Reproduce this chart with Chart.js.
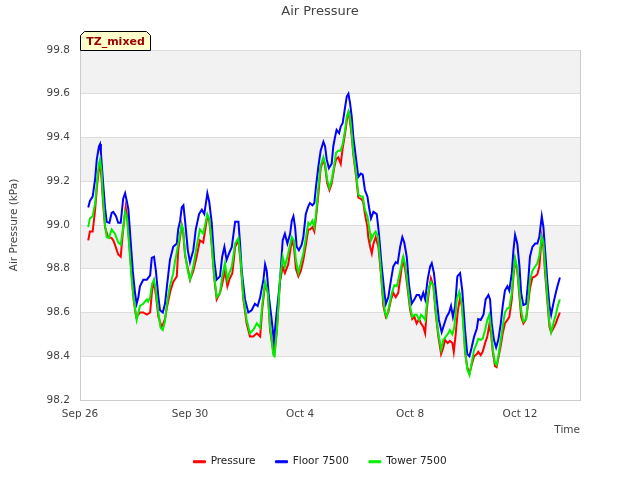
<!DOCTYPE html>
<html><head><meta charset="utf-8">
<script src="https://cdn.jsdelivr.net/npm/chart.js@4/dist/chart.umd.min.js"></script>
<style>html,body{margin:0;padding:0;background:#fff}</style>
</head><body>
<canvas id="c" width="640" height="480" style="width:640px;height:480px"></canvas>
<script>
const chartTitle = 'Air Pressure';
const seriesNames = ['Pressure', 'Floor 7500', 'Tower 7500'];
const seriesColors = ['#ff0000', '#0000ff', '#00ee00'];
const tickDays = [0, 4, 8, 12, 16];
const tickLabels = ['Sep 26', 'Sep 30', 'Oct 4', 'Oct 8', 'Oct 12'];
const yTicks = [98.2, 98.4, 98.6, 98.8, 99.0, 99.2, 99.4, 99.6, 99.8];
const shadedBands = [[98.4, 98.6], [98.8, 99.0], [99.2, 99.4], [99.6, 99.8]];

// [days since Sep 26 00:00, kPa]
const floorSeries = [[0.30,99.08],[0.36,99.11],[0.46,99.13],[0.55,99.21],[0.61,99.30],[0.69,99.36],[0.73,99.37],[0.76,99.33],[0.83,99.21],[0.91,99.08],[0.97,99.015],[1.07,99.01],[1.15,99.055],[1.21,99.06],[1.31,99.04],[1.39,99.01],[1.48,99.01],[1.57,99.12],[1.64,99.145],[1.70,99.11],[1.76,99.07],[1.84,98.93],[1.92,98.79],[2.00,98.69],[2.06,98.64],[2.12,98.67],[2.18,98.72],[2.30,98.75],[2.43,98.75],[2.55,98.77],[2.61,98.85],[2.69,98.855],[2.76,98.79],[2.85,98.67],[2.91,98.61],[3.01,98.60],[3.09,98.64],[3.17,98.73],[3.27,98.84],[3.39,98.90],[3.52,98.915],[3.57,98.98],[3.64,99.02],[3.70,99.08],[3.76,99.09],[3.82,99.02],[3.92,98.885],[4.00,98.83],[4.12,98.885],[4.21,98.98],[4.33,99.05],[4.43,99.07],[4.52,99.05],[4.63,99.145],[4.70,99.105],[4.79,99.01],[4.88,98.84],[4.97,98.75],[5.09,98.765],[5.17,98.855],[5.25,98.90],[5.33,98.84],[5.42,98.87],[5.52,98.90],[5.64,99.015],[5.76,99.015],[5.82,98.915],[5.88,98.79],[6.00,98.66],[6.12,98.60],[6.24,98.61],[6.36,98.64],[6.46,98.63],[6.55,98.67],[6.67,98.75],[6.73,98.82],[6.79,98.79],[6.87,98.67],[6.97,98.566],[7.05,98.47],[7.15,98.60],[7.27,98.74],[7.37,98.93],[7.45,98.96],[7.54,98.915],[7.64,98.96],[7.70,99.02],[7.76,99.04],[7.82,98.99],[7.88,98.90],[7.96,98.885],[8.06,98.91],[8.12,98.945],[8.21,99.05],[8.30,99.085],[8.36,99.10],[8.45,99.09],[8.52,99.10],[8.58,99.175],[8.67,99.27],[8.75,99.34],[8.85,99.38],[8.91,99.36],[8.97,99.30],[9.05,99.26],[9.15,99.28],[9.21,99.36],[9.27,99.40],[9.33,99.435],[9.42,99.42],[9.48,99.45],[9.55,99.465],[9.64,99.54],[9.70,99.587],[9.76,99.60],[9.82,99.556],[9.88,99.495],[9.94,99.40],[10.04,99.30],[10.12,99.22],[10.21,99.235],[10.28,99.23],[10.36,99.16],[10.45,99.13],[10.51,99.08],[10.58,99.03],[10.67,99.06],[10.79,99.05],[10.87,98.96],[10.97,98.81],[11.07,98.69],[11.12,98.64],[11.21,98.67],[11.31,98.75],[11.39,98.81],[11.48,98.83],[11.55,98.825],[11.64,98.90],[11.72,98.945],[11.79,98.92],[11.88,98.855],[11.96,98.73],[12.06,98.64],[12.16,98.66],[12.24,98.68],[12.33,98.68],[12.40,98.66],[12.48,98.69],[12.55,98.66],[12.64,98.75],[12.73,98.81],[12.79,98.825],[12.87,98.78],[12.97,98.66],[13.05,98.566],[13.15,98.51],[13.25,98.55],[13.33,98.58],[13.42,98.60],[13.49,98.63],[13.56,98.58],[13.64,98.63],[13.72,98.765],[13.82,98.78],[13.90,98.70],[14.00,98.52],[14.08,98.41],[14.16,98.40],[14.24,98.44],[14.33,98.49],[14.43,98.527],[14.48,98.57],[14.57,98.566],[14.67,98.59],[14.75,98.66],[14.85,98.68],[14.91,98.66],[14.97,98.55],[15.05,98.475],[15.13,98.44],[15.21,98.475],[15.30,98.55],[15.37,98.63],[15.45,98.70],[15.54,98.72],[15.61,98.70],[15.70,98.78],[15.76,98.885],[15.82,98.955],[15.90,98.915],[15.98,98.81],[16.04,98.69],[16.12,98.634],[16.22,98.64],[16.30,98.75],[16.36,98.855],[16.45,98.90],[16.55,98.915],[16.63,98.915],[16.70,98.945],[16.79,99.04],[16.85,98.99],[16.91,98.885],[17.00,98.73],[17.07,98.63],[17.13,98.59],[17.21,98.64],[17.30,98.69],[17.37,98.725],[17.45,98.76]];

const towerSeries = [[0.30,98.99],[0.36,99.03],[0.46,99.04],[0.55,99.10],[0.62,99.20],[0.69,99.28],[0.73,99.30],[0.78,99.25],[0.84,99.12],[0.91,99.00],[0.97,98.945],[1.05,98.94],[1.15,98.98],[1.21,98.97],[1.27,98.96],[1.39,98.92],[1.48,98.91],[1.57,98.99],[1.64,99.06],[1.71,99.03],[1.78,98.92],[1.85,98.80],[1.93,98.68],[2.06,98.566],[2.18,98.63],[2.30,98.64],[2.43,98.66],[2.48,98.65],[2.55,98.67],[2.62,98.73],[2.69,98.75],[2.76,98.70],[2.85,98.60],[2.93,98.53],[3.01,98.52],[3.09,98.56],[3.17,98.65],[3.27,98.72],[3.39,98.78],[3.45,98.83],[3.57,98.91],[3.70,99.00],[3.75,98.98],[3.82,98.87],[3.92,98.79],[4.00,98.75],[4.12,98.81],[4.24,98.90],[4.36,98.98],[4.48,98.96],[4.63,99.05],[4.70,99.03],[4.79,98.915],[4.88,98.765],[4.97,98.67],[5.09,98.69],[5.17,98.765],[5.27,98.825],[5.36,98.75],[5.43,98.78],[5.52,98.81],[5.64,98.915],[5.76,98.94],[5.84,98.84],[5.94,98.67],[6.06,98.566],[6.18,98.505],[6.30,98.52],[6.43,98.55],[6.55,98.53],[6.63,98.64],[6.73,98.74],[6.83,98.69],[6.91,98.535],[7.03,98.405],[7.07,98.40],[7.16,98.52],[7.27,98.75],[7.37,98.855],[7.45,98.81],[7.57,98.87],[7.70,98.945],[7.78,98.93],[7.85,98.84],[7.94,98.78],[8.03,98.825],[8.12,98.87],[8.22,98.945],[8.30,99.01],[8.36,99.00],[8.45,99.02],[8.52,98.99],[8.58,99.05],[8.67,99.175],[8.75,99.27],[8.85,99.31],[8.91,99.28],[8.99,99.205],[9.07,99.17],[9.15,99.205],[9.24,99.27],[9.31,99.33],[9.39,99.34],[9.48,99.34],[9.55,99.37],[9.64,99.435],[9.70,99.495],[9.76,99.52],[9.82,99.49],[9.88,99.42],[9.94,99.33],[10.04,99.235],[10.12,99.14],[10.21,99.13],[10.28,99.13],[10.36,99.07],[10.45,99.04],[10.55,98.96],[10.58,98.93],[10.67,98.955],[10.75,98.97],[10.83,98.95],[10.91,98.84],[11.00,98.69],[11.09,98.60],[11.15,98.58],[11.24,98.63],[11.34,98.69],[11.43,98.725],[11.52,98.72],[11.60,98.765],[11.70,98.825],[11.76,98.855],[11.82,98.82],[11.92,98.72],[12.00,98.63],[12.08,98.58],[12.16,98.59],[12.24,98.59],[12.33,98.566],[12.40,98.59],[12.48,98.58],[12.55,98.566],[12.63,98.66],[12.70,98.72],[12.76,98.74],[12.85,98.72],[12.93,98.61],[13.03,98.505],[13.13,98.43],[13.21,98.475],[13.30,98.49],[13.39,98.505],[13.45,98.52],[13.54,98.50],[13.61,98.535],[13.70,98.66],[13.79,98.695],[13.88,98.64],[13.93,98.55],[14.00,98.43],[14.08,98.34],[14.16,98.314],[14.24,98.37],[14.33,98.43],[14.43,98.46],[14.48,98.48],[14.57,98.475],[14.64,98.48],[14.73,98.52],[14.81,98.566],[14.88,98.59],[14.95,98.52],[15.01,98.43],[15.09,98.37],[15.15,98.36],[15.21,98.40],[15.30,98.475],[15.37,98.535],[15.45,98.60],[15.54,98.62],[15.61,98.62],[15.70,98.69],[15.76,98.78],[15.82,98.848],[15.90,98.80],[15.98,98.69],[16.04,98.61],[16.12,98.558],[16.22,98.57],[16.30,98.66],[16.36,98.75],[16.45,98.79],[16.55,98.81],[16.63,98.825],[16.70,98.86],[16.79,98.945],[16.85,98.92],[16.91,98.81],[17.00,98.66],[17.07,98.55],[17.13,98.51],[17.21,98.55],[17.30,98.59],[17.37,98.63],[17.45,98.66]];

const pressureSeries = [[0.30,98.93],[0.36,98.97],[0.46,98.97],[0.55,99.07],[0.62,99.18],[0.69,99.26],[0.73,99.28],[0.78,99.22],[0.84,99.10],[0.91,98.99],[1.02,98.945],[1.15,98.94],[1.21,98.93],[1.27,98.91],[1.39,98.865],[1.48,98.855],[1.56,98.97],[1.66,99.08],[1.73,99.02],[1.80,98.90],[1.87,98.78],[1.95,98.66],[2.04,98.58],[2.12,98.59],[2.18,98.60],[2.30,98.60],[2.43,98.59],[2.55,98.60],[2.62,98.70],[2.69,98.74],[2.76,98.68],[2.85,98.58],[2.97,98.535],[3.03,98.55],[3.09,98.57],[3.17,98.63],[3.29,98.70],[3.39,98.74],[3.52,98.765],[3.57,98.885],[3.70,99.00],[3.75,98.97],[3.82,98.86],[3.94,98.79],[4.00,98.75],[4.12,98.79],[4.24,98.855],[4.36,98.93],[4.48,98.92],[4.63,99.04],[4.70,99.02],[4.79,98.91],[4.88,98.76],[4.97,98.66],[5.09,98.69],[5.17,98.73],[5.27,98.79],[5.36,98.72],[5.43,98.75],[5.54,98.78],[5.64,98.90],[5.76,98.93],[5.84,98.83],[5.94,98.66],[6.06,98.55],[6.18,98.49],[6.30,98.49],[6.43,98.505],[6.55,98.49],[6.63,98.62],[6.73,98.73],[6.83,98.69],[6.91,98.52],[7.03,98.42],[7.07,98.41],[7.16,98.52],[7.27,98.74],[7.37,98.81],[7.45,98.78],[7.57,98.82],[7.70,98.93],[7.78,98.90],[7.85,98.80],[7.94,98.765],[8.03,98.79],[8.12,98.84],[8.22,98.915],[8.30,98.98],[8.36,98.98],[8.45,98.99],[8.52,98.97],[8.58,99.03],[8.67,99.145],[8.75,99.26],[8.85,99.30],[8.91,99.27],[8.99,99.19],[9.07,99.16],[9.15,99.19],[9.24,99.26],[9.31,99.30],[9.39,99.31],[9.48,99.28],[9.55,99.35],[9.64,99.42],[9.72,99.495],[9.78,99.51],[9.88,99.405],[9.94,99.32],[10.04,99.22],[10.12,99.125],[10.21,99.12],[10.29,99.11],[10.36,99.05],[10.45,98.99],[10.48,98.945],[10.55,98.90],[10.61,98.87],[10.67,98.915],[10.75,98.945],[10.85,98.90],[10.95,98.765],[11.03,98.63],[11.12,98.58],[11.21,98.60],[11.31,98.66],[11.39,98.69],[11.48,98.67],[11.57,98.69],[11.67,98.78],[11.73,98.84],[11.82,98.80],[11.92,98.70],[12.00,98.615],[12.08,98.57],[12.16,98.58],[12.24,98.55],[12.33,98.57],[12.40,98.55],[12.48,98.535],[12.55,98.505],[12.61,98.615],[12.69,98.70],[12.76,98.756],[12.85,98.72],[12.93,98.60],[13.03,98.49],[13.13,98.41],[13.21,98.44],[13.27,98.475],[13.37,98.46],[13.45,98.47],[13.54,98.46],[13.59,98.42],[13.66,98.50],[13.73,98.60],[13.82,98.67],[13.90,98.62],[13.97,98.50],[14.00,98.42],[14.08,98.35],[14.16,98.32],[14.24,98.36],[14.33,98.40],[14.43,98.41],[14.48,98.42],[14.57,98.405],[14.64,98.42],[14.73,98.46],[14.81,98.49],[14.88,98.543],[14.95,98.50],[15.01,98.42],[15.09,98.355],[15.15,98.35],[15.21,98.39],[15.30,98.45],[15.37,98.505],[15.45,98.55],[15.54,98.566],[15.61,98.58],[15.70,98.66],[15.76,98.765],[15.82,98.84],[15.90,98.79],[15.98,98.67],[16.04,98.58],[16.12,98.55],[16.22,98.57],[16.30,98.645],[16.36,98.71],[16.45,98.76],[16.55,98.765],[16.63,98.775],[16.70,98.81],[16.79,98.945],[16.85,98.90],[16.91,98.78],[17.00,98.64],[17.07,98.535],[17.13,98.51],[17.21,98.527],[17.30,98.55],[17.37,98.575],[17.45,98.60]];

const toPoints = s => s.map(p => ({x: p[0], y: p[1]}));
const allSeries = [pressureSeries, floorSeries, towerSeries];
const drawOrder = [3, 2, 1];

Chart.defaults.font.family = "'DejaVu Sans', sans-serif";

const bandPlugin = {
  id: 'bands',
  beforeDraw(chart) {
    const {ctx, chartArea: a, scales: {y}} = chart;
    ctx.save();
    ctx.fillStyle = '#f2f2f2';
    shadedBands.forEach(b => {
      const t = y.getPixelForValue(b[1]), bt = y.getPixelForValue(b[0]);
      ctx.fillRect(a.left, t, a.right - a.left, bt - t);
    });
    ctx.restore();
  },
  afterDraw(chart) {
    const {ctx, chartArea: a} = chart;
    ctx.save();
    ctx.strokeStyle = '#cccccc';
    ctx.lineWidth = 1;
    ctx.beginPath();
    ctx.moveTo(a.right + 0.5, a.top);
    ctx.lineTo(a.right + 0.5, a.bottom);
    ctx.stroke();
    // TZ_mixed tag
    const x0 = a.left + 0.5, x1 = a.left + 70.5, yb = a.top + 0.5, yt = a.top - 18.5;
    ctx.beginPath();
    ctx.moveTo(x0, yb); ctx.lineTo(x0, yt + 4); ctx.lineTo(x0 + 4, yt);
    ctx.lineTo(x1 - 4, yt); ctx.lineTo(x1, yt + 4); ctx.lineTo(x1, yb);
    ctx.closePath();
    ctx.fillStyle = '#ffffcc';
    ctx.fill();
    ctx.strokeStyle = '#000000';
    ctx.stroke();
    ctx.fillStyle = '#990000';
    ctx.font = "bold 11px 'DejaVu Sans', sans-serif";
    ctx.textAlign = 'center';
    ctx.textBaseline = 'middle';
    ctx.fillText('TZ_mixed', (x0 + x1) / 2, (yb + yt) / 2 + 1);
    ctx.restore();
  }
};

new Chart(document.getElementById('c'), {
  type: 'line',
  data: {
    datasets: seriesNames.map((name, i) => ({
      label: name,
      data: toPoints(allSeries[i]),
      borderColor: seriesColors[i],
      backgroundColor: seriesColors[i],
      borderWidth: 2,
      pointRadius: 0,
      tension: 0,
      fill: false,
      order: drawOrder[i]
    }))
  },
  options: {
    responsive: false,
    animation: false,
    devicePixelRatio: 1,
    layout: {padding: {left: 0, right: 0, top: 0, bottom: 3}},
    plugins: {
      title: {display: true, text: chartTitle, color: '#444444',
        font: {size: 13, weight: 'normal'}, padding: {top: 4, bottom: 30.4}},
      legend: {
        position: 'bottom',
        labels: {
          color: '#222222', font: {size: 10.5}, boxWidth: 12, boxHeight: 2, padding: 20,
          sort: (a, b) => a.datasetIndex - b.datasetIndex,
          generateLabels: chart => Chart.defaults.plugins.legend.labels.generateLabels(chart)
            .map(l => Object.assign(l, {lineWidth: 1}))
        }
      },
      tooltip: {enabled: false}
    },
    scales: {
      x: {
        type: 'linear', min: 0, max: 18.18,
        afterBuildTicks: s => { s.ticks = tickDays.map(v => ({value: v})); },
        afterFit: s => { s.height = 80 - 3 - (s.chart.legend ? s.chart.legend.height : 0); },
        ticks: {color: '#444444', font: {size: 10.5}, padding: 0, maxRotation: 0, autoSkip: false,
          callback: v => tickLabels[tickDays.indexOf(v)] || ''},
        grid: {display: false},
        border: {display: true, color: '#cccccc'},
        title: {display: true, text: 'Time', align: 'end', color: '#444444',
          font: {size: 10.5}, padding: {top: 2, bottom: 0}}
      },
      y: {
        min: 98.2, max: 99.8,
        afterBuildTicks: s => { s.ticks = yTicks.map(v => ({value: v})); },
        afterFit: s => { s.width = 80; },
        ticks: {color: '#444444', font: {size: 10.5}, padding: 10, callback: v => v.toFixed(1)},
        grid: {color: '#dddddd', drawTicks: false},
        border: {display: true, color: '#cccccc'},
        title: {display: true, text: 'Air Pressure (kPa)', color: '#444444',
          font: {size: 10.5}, padding: {top: 8, bottom: 0}}
      },
      rightSpace: {
        position: 'right', display: true,
        afterFit: s => { s.width = 60; },
        ticks: {display: false},
        grid: {display: false, drawTicks: false},
        border: {display: false}
      }
    }
  },
  plugins: [bandPlugin]
});
</script>
</body></html>
